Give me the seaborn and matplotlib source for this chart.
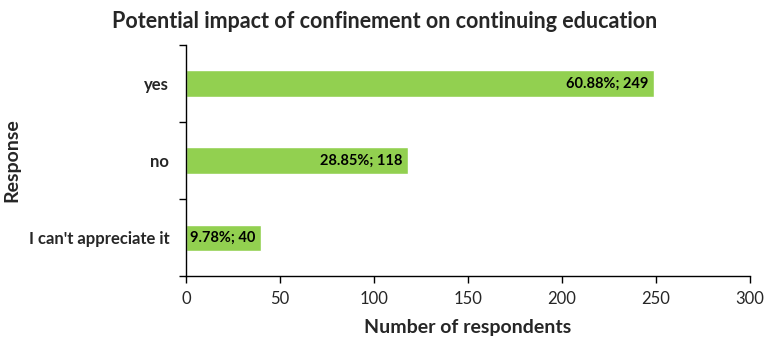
import pandas as pd
import matplotlib.pyplot as plt
import seaborn as sns

responses = ["yes", "no", "I can't appreciate it"]
counts = [249, 118, 40]
percents = ["60.88%", "28.85%", "9.78%"]

sns.set_style("white")
plt.rcParams['font.family'] = ['Lato', 'DejaVu Sans']

df = pd.DataFrame({"Response": responses, "Count": counts})

fig = plt.figure(figsize=(7.65, 3.38), dpi=100)
ax = fig.add_axes([0.243, 0.183, 0.737, 0.684])
sns.barplot(data=df, y="Response", x="Count", color="#92D050", width=0.34,
            saturation=1, ax=ax, orient="h")

# value labels inside the bar ends
for i, (c, p) in enumerate(zip(counts, percents)):
    ax.text(c - 3, i, f"{p}; {c}", ha="right", va="center",
            fontsize=10.5, fontweight="bold", color="black")

ax.set_xlim(0, 300)
ax.set_ylim(2.5, -0.5)
ax.set_xticks(range(0, 301, 50))
ax.set_yticks([0, 1, 2])
ax.set_yticklabels(responses, fontsize=12, fontweight="bold")
ax.set_yticks([-0.5, 0.5, 1.5, 2.5], minor=True)
ax.tick_params(axis="y", which="major", length=0, pad=12)
ax.tick_params(axis="y", which="minor", length=5, width=1, color="black", direction="out", left=True)
ax.tick_params(axis="x", length=5, width=1, color="black", direction="out", bottom=True,
               labelsize=12, pad=6)

for s in ["top", "right"]:
    ax.spines[s].set_visible(False)
for s in ["left", "bottom"]:
    ax.spines[s].set_color("black")
    ax.spines[s].set_linewidth(1)

ax.set_xlabel("Number of respondents", fontsize=14, fontweight="bold", labelpad=8)
ax.set_ylabel("Response", fontsize=14, fontweight="bold")
ax.yaxis.set_label_coords(-0.293, 0.5)
fig.text(0.503, 0.935, "Potential impact of confinement on continuing education",
         ha="center", va="center", fontsize=15.5, fontweight="bold")

plt.savefig("out.png", dpi=100)
